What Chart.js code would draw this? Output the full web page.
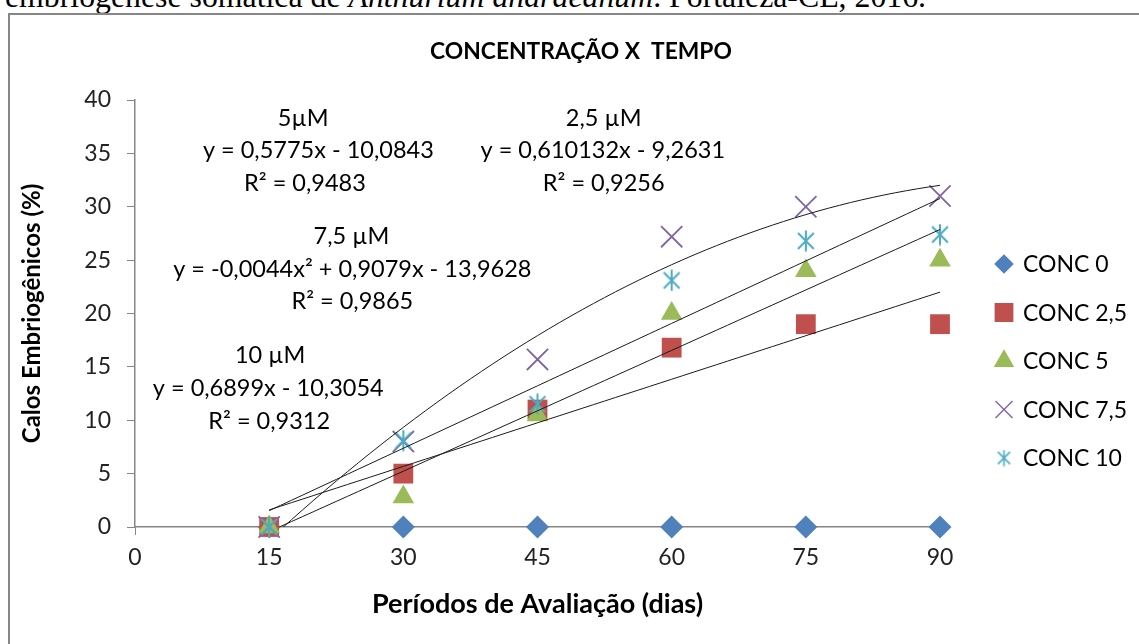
<!DOCTYPE html>
<html>
<head>
<meta charset="utf-8">
<script src="https://cdn.jsdelivr.net/npm/chart.js@4.4.1/dist/chart.umd.min.js"></script>
<style>
body { margin: 0; background: #fff; overflow: hidden; width: 1139px; height: 644px; position: relative; }
#cap { position: absolute; left: 5px; top: -20px; font: 31.8px "Liberation Serif"; line-height: 34px; white-space: nowrap; color: #000; }
#frame { position: absolute; left: 8px; top: 13px; width: 1200px; height: 700px; border: 2px solid #868686; }
#c { position: absolute; left: 0; top: 0; }
</style>
</head>
<body>
<div id="cap">embriogênese somática de <i>Anthurium andraeanum</i>. Fortaleza-CE, 2016.</div>
<div id="frame"></div>
<canvas id="c" width="1139" height="644"></canvas>
<script>
// dados
var dias = [15, 30, 45, 60, 75, 90];
var conc0 = [0, 0, 0, 0, 0, 0];
var conc25 = [0, 5, 11, 16.8, 19, 19];
var conc5 = [0, 2.8, 10.5, 20, 24, 25];
var conc75 = [0, 8, 15.7, 27.2, 30, 31];
var conc10 = [0, 8.1, 11.5, 23.1, 26.8, 27.4];
var nomes = ["CONC 0", "CONC 2,5", "CONC 5", "CONC 7,5", "CONC 10"];
var xTicks = [0, 15, 30, 45, 60, 75, 90];
var yTicks = [0, 5, 10, 15, 20, 25, 30, 35, 40];
var titulo = "CONCENTRAÇÃO X  TEMPO";

// textos das equacoes (x, y em unidades do grafico)
var rotulos = [
    { x: 18.8, y: 38.3, t: "5µM" },
    { x: 20.5, y: 35.3, t: "y = 0,5775x - 10,0843" },
    { x: 19.0, y: 32.2, t: "R² = 0,9483" },
    { x: 52.4, y: 38.3, t: "2,5 µM" },
    { x: 52.3, y: 35.3, t: "y = 0,610132x - 9,2631" },
    { x: 52.4, y: 32.2, t: "R² = 0,9256" },
    { x: 24.2, y: 27.2, t: "7,5 µM" },
    { x: 24.3, y: 24.1, t: "y = -0,0044x² + 0,9079x - 13,9628" },
    { x: 24.3, y: 21.1, t: "R² = 0,9865" },
    { x: 15.1, y: 16.1, t: "10 µM" },
    { x: 14.9, y: 13.0, t: "y = 0,6899x - 10,3054" },
    { x: 15.0, y: 9.9, t: "R² = 0,9312" }
];

var cores = ["#4f81bd", "#c0504d", "#9bbb59", "#8064a2", "#4bacc6"];
var fonte = "Lato";

function asterisco(cor, tam, lw) {
    var c = document.createElement("canvas");
    c.width = tam; c.height = tam;
    var g = c.getContext("2d");
    g.strokeStyle = cor;
    g.lineWidth = lw;
    var m = tam * 0.14;
    g.beginPath();
    g.moveTo(m, m); g.lineTo(tam - m, tam - m);
    g.moveTo(tam - m, m); g.lineTo(m, tam - m);
    g.moveTo(tam / 2, 0.5); g.lineTo(tam / 2, tam - 0.5);
    g.stroke();
    return c;
}

function pontos(ys) {
    return dias.map(function (d, i) { return { x: d, y: ys[i] }; });
}

// regressao linear
function linear(ys) {
    var n = dias.length, sx = 0, sy = 0, sxx = 0, sxy = 0;
    for (var i = 0; i < n; i++) {
        sx += dias[i]; sy += ys[i]; sxx += dias[i] * dias[i]; sxy += dias[i] * ys[i];
    }
    var b = (n * sxy - sx * sy) / (n * sxx - sx * sx);
    var a = (sy - b * sx) / n;
    return function (x) { return a + b * x; };
}

// regressao polinomial de 2 grau
function quadratica(ys) {
    var s = [0, 0, 0, 0, 0], t = [0, 0, 0];
    for (var i = 0; i < dias.length; i++) {
        var x = dias[i];
        for (var k = 0; k < 5; k++) s[k] += Math.pow(x, k);
        for (var k2 = 0; k2 < 3; k2++) t[k2] += ys[i] * Math.pow(x, k2);
    }
    var M = [[s[0], s[1], s[2], t[0]], [s[1], s[2], s[3], t[1]], [s[2], s[3], s[4], t[2]]];
    for (var c = 0; c < 3; c++) {
        for (var r = c + 1; r < 3; r++) {
            var f = M[r][c] / M[c][c];
            for (var j = c; j < 4; j++) M[r][j] -= f * M[c][j];
        }
    }
    var coef = [0, 0, 0];
    for (var r2 = 2; r2 >= 0; r2--) {
        var v = M[r2][3];
        for (var j2 = r2 + 1; j2 < 3; j2++) v -= M[r2][j2] * coef[j2];
        coef[r2] = v / M[r2][r2];
    }
    return function (x) { return coef[0] + coef[1] * x + coef[2] * x * x; };
}

function tendencia(fn) {
    var arr = [];
    var x0 = dias[0], x1 = dias[dias.length - 1];
    for (var i = 0; i <= 60; i++) {
        var x = x0 + (x1 - x0) * i / 60;
        arr.push({ x: x, y: fn(x) });
    }
    return {
        type: "line", data: arr, showLine: true, borderColor: "#1a1a1a", borderWidth: 1,
        pointRadius: 0, fill: false, tension: 0, order: 0
    };
}

var estilos = ["rectRot", "rect", "triangle", "crossRot", asterisco(cores[4], 22, 2)];
var raios = [11.5, 14, 12.5, 15, 11];
var estilosLeg = ["rectRot", "rect", "triangle", "crossRot", asterisco(cores[4], 17, 1.6)];
var raiosLeg = [8.5, 12, 10, 12, 8.5];
var series = [conc0, conc25, conc5, conc75, conc10];

var datasets = series.map(function (ys, i) {
    return {
        label: nomes[i],
        data: pontos(ys),
        pointStyle: estilos[i],
        pointRadius: raios[i],
        pointHoverRadius: raios[i],
        pointBackgroundColor: cores[i],
        pointBorderColor: cores[i],
        pointBorderWidth: (i >= 3) ? 1.8 : 0,
        showLine: false,
        clip: false,
        order: 10 - i
    };
});
datasets.push(tendencia(linear(conc25)));
datasets.push(tendencia(linear(conc5)));
datasets.push(tendencia(quadratica(conc75)));
datasets.push(tendencia(linear(conc10)));

var textos = {
    id: "textos",
    afterDatasetsDraw: function (chart) {
        var ctx = chart.ctx, xs = chart.scales.x, ys = chart.scales.y;
        ctx.save();
        ctx.font = "23.5px " + fonte;
        ctx.fillStyle = "#000";
        ctx.textAlign = "center";
        ctx.textBaseline = "middle";
        rotulos.forEach(function (r) {
            ctx.fillText(r.t, xs.getPixelForValue(r.x), ys.getPixelForValue(r.y));
        });
        ctx.restore();
    },
    afterDraw: function (chart) {
        var ctx = chart.ctx;
        ctx.save();
        // titulo
        ctx.fillStyle = "#000";
        ctx.font = "bold 22.8px " + fonte;
        ctx.textAlign = "center";
        ctx.textBaseline = "middle";
        ctx.fillText(titulo, 581, 52);
        // legenda a direita
        var y0 = 264, passo = 48.5;
        for (var i = 0; i < nomes.length; i++) {
            var y = y0 + i * passo;
            ctx.fillStyle = cores[i];
            ctx.strokeStyle = cores[i];
            ctx.lineWidth = (i >= 3) ? 1.4 : 0;
            Chart.helpers.drawPoint(ctx, { pointStyle: estilosLeg[i], radius: raiosLeg[i], borderWidth: ctx.lineWidth, rotation: 0 }, 1004, y);
            ctx.fillStyle = "#000";
            ctx.font = "23px " + fonte;
            ctx.textAlign = "left";
            ctx.textBaseline = "middle";
            ctx.fillText(nomes[i], 1023, y + 1);
        }
        ctx.restore();
    }
};

new Chart(document.getElementById("c"), {
    type: "scatter",
    data: { datasets: datasets },
    options: {
        responsive: false,
        animation: false,
        layout: { padding: { left: 0, right: 199, top: 100, bottom: 0 } },
        plugins: {
            legend: { display: false },
            tooltip: { enabled: false },
            title: { display: false }
        },
        scales: {
            x: {
                type: "linear",
                min: 0, max: 90,
                afterBuildTicks: function (s) { s.ticks = xTicks.map(function (v) { return { value: v }; }); },
                afterFit: function (s) { s.height = 117; },
                grid: { drawOnChartArea: false, color: "#868686", tickLength: 8 },
                border: { color: "#868686", width: 1.5 },
                ticks: { color: "#222", padding: 9, font: { family: fonte, size: 23 } },
                title: {
                    display: true, text: "Períodos de Avaliação (dias)", color: "#000",
                    font: { family: fonte, size: 27, weight: "bold" },
                    padding: { top: 24, bottom: 24 }
                }
            },
            y: {
                min: 0, max: 40,
                afterBuildTicks: function (s) { s.ticks = yTicks.map(function (v) { return { value: v }; }); },
                afterFit: function (s) { s.width = 135; },
                grid: { drawOnChartArea: false, color: "#868686", tickLength: 8 },
                border: { color: "#868686", width: 1.5 },
                ticks: { color: "#222", padding: 16, font: { family: fonte, size: 23 } },
                title: {
                    display: true, text: "Calos Embriogênicos (%)", color: "#000",
                    font: { family: fonte, size: 24, weight: "bold" },
                    padding: { top: 18, bottom: 18 }
                }
            }
        }
    },
    plugins: [textos]
});
</script>
</body>
</html>
